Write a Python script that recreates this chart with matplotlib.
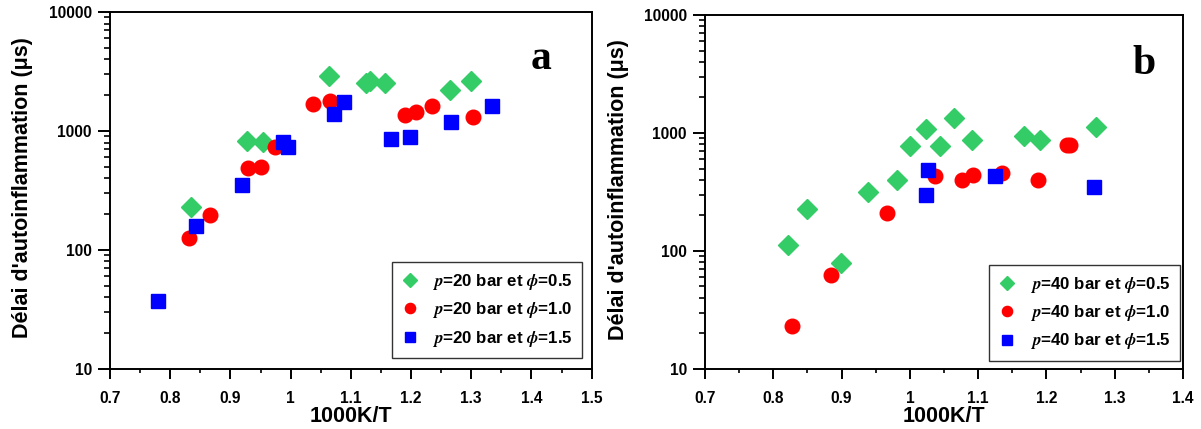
import matplotlib
matplotlib.use('Agg')
import matplotlib.pyplot as plt
from matplotlib.ticker import MultipleLocator, LogLocator, NullFormatter, FuncFormatter
import numpy as np

plt.rcParams['font.family'] = ['Liberation Sans', 'DejaVu Sans']
plt.rcParams['font.weight'] = 'bold'
plt.rcParams['mathtext.fontset'] = 'stix'

##############################################################################
## Data

# panel a : p = 20 bar
a_x05 = [0.835, 0.927, 0.954, 1.064, 1.125, 1.132, 1.156, 1.265, 1.300]
a_y05 = [230, 818, 810, 2880, 2530, 2610, 2530, 2220, 2610]
a_x10 = [0.832, 0.866, 0.930, 0.950, 0.974, 1.038, 1.066, 1.190, 1.208, 1.235, 1.303]
a_y10 = [126, 198, 492, 497, 735, 1697, 1780, 1356, 1440, 1634, 1318]
a_x15 = [0.779, 0.843, 0.920, 0.987, 0.995, 1.072, 1.088, 1.166, 1.198, 1.267, 1.334]
a_y15 = [37, 160, 349, 809, 735, 1400, 1750, 863, 891, 1191, 1634]

# panel b : p = 40 bar
b_x05 = [0.822, 0.849, 0.899, 0.938, 0.981, 1.000, 1.023, 1.044, 1.064, 1.091, 1.167, 1.191, 1.273]
b_y05 = [113, 228, 79, 317, 396, 782, 1089, 782, 1330, 880, 937, 880, 1117]
b_x10 = [0.827, 0.884, 0.967, 1.037, 1.077, 1.093, 1.135, 1.187, 1.230, 1.234]
b_y10 = [23, 63, 209, 436, 396, 438, 459, 396, 797, 797]
b_x15 = [1.026, 1.023, 1.125, 1.270]
b_y15 = [481, 301, 436, 348]

green = '#33cc66'
red = '#ff0000'
blue = '#0000ff'

##############################################################################
## Plotting

fig = plt.figure(figsize=(12.01, 4.29), dpi=100)
ax1 = fig.add_axes([0.0916, 0.140, 0.401, 0.832])
ax2 = fig.add_axes([0.587, 0.140, 0.398, 0.825])

def setup(ax, xmax, p, letter, letter_pos, ylab_x, leg_anchor, series):
    (x05, y05), (x10, y10), (x15, y15) = series
    ax.plot(x05, y05, 'D', color=green, ms=10.5, mec=green, label='$p$=%d bar et $\\phi$=0.5' % p)
    ax.plot(x10, y10, 'o', color=red, ms=10.5, mec=red, label='$p$=%d bar et $\\phi$=1.0' % p)
    ax.plot(x15, y15, 's', color=blue, ms=10, mec=blue, label='$p$=%d bar et $\\phi$=1.5' % p)
    ax.set_yscale('log')
    ax.set_xlim(0.7, xmax)
    ax.set_ylim(10, 10000)
    ax.xaxis.set_major_locator(MultipleLocator(0.1))
    ax.xaxis.set_minor_locator(MultipleLocator(0.05))
    ax.xaxis.set_major_formatter(FuncFormatter(lambda v, pos: '%g' % round(v, 2)))
    ax.yaxis.set_major_locator(LogLocator(base=10, numticks=10))
    ax.yaxis.set_minor_locator(LogLocator(base=10, subs=np.arange(2, 10), numticks=10))
    ax.yaxis.set_minor_formatter(NullFormatter())
    ax.yaxis.set_major_formatter(FuncFormatter(lambda v, pos: '%d' % v))
    ax.tick_params(axis='x', which='major', direction='out', length=7, width=1.4, labelsize=11.2, pad=9)
    ax.tick_params(axis='x', which='minor', direction='out', length=3, width=1.2)
    ax.tick_params(axis='y', which='major', direction='out', length=9, width=1.4, labelsize=11.2, pad=4)
    ax.tick_params(axis='y', which='minor', direction='out', length=4.5, width=1.2)
    for s in ax.spines.values():
        s.set_linewidth(1.4)
    ax.set_xlabel('1000K/T', fontsize=15.5, fontweight='bold', labelpad=0)
    ax.set_ylabel("Délai d'autoinflammation (μs)", fontsize=15.5, fontweight='bold')
    ax.yaxis.set_label_coords(ylab_x, 0.507)
    ax.text(letter_pos[0], letter_pos[1], letter, transform=ax.transAxes, fontsize=30,
            fontweight='bold', family='Liberation Serif', ha='center', va='center')
    leg = ax.legend(loc='lower right', bbox_to_anchor=leg_anchor, fontsize=12.2,
                    markerscale=0.7, frameon=True, fancybox=False, edgecolor='black',
                    handletextpad=0.85, labelspacing=0.5, borderpad=0.55, handlelength=1.0,
                    borderaxespad=0)
    leg.get_frame().set_linewidth(1.0)

setup(ax1, 1.5, 20, 'a', (0.896, 0.868), -0.160, (0.981, 0.031),
      [(a_x05, a_y05), (a_x10, a_y10), (a_x15, a_y15)])
setup(ax2, 1.4, 40, 'b', (0.918, 0.862), -0.159, (0.994, 0.023),
      [(b_x05, b_y05), (b_x10, b_y10), (b_x15, b_y15)])

plt.savefig('out.png', dpi=100)
